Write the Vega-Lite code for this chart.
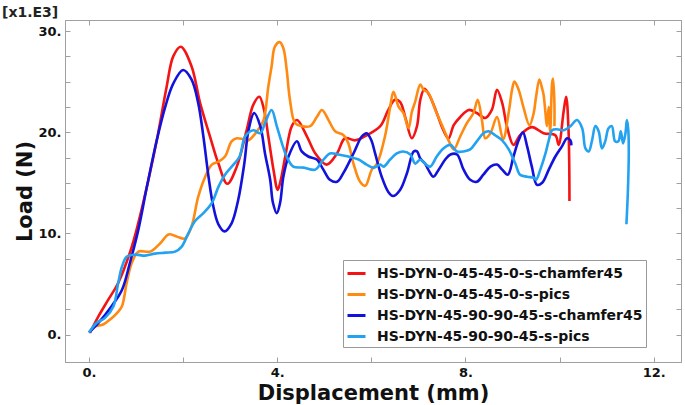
{
"$schema": "https://vega.github.io/schema/vega-lite/v6.json",
"width": 616, "height": 342,
"autosize": "none",
"padding": {"left": 65, "top": 20, "right": 4, "bottom": 43},
"background": "white",
"title": {"text": "[x1.E3]", "anchor": "start", "frame": "group", "dx": -63, "offset": 0, "fontSize": 14, "font": "DejaVu Sans", "fontWeight": "bold", "color": "#222"},
"config": {"view": {"stroke": "#a0a0a0", "strokeWidth": 1}, "font": "DejaVu Sans", "axis": {"grid": false}},
"data": {"values": [
{"s":"HS-DYN-0-45-45-0-s-chamfer45","i":0,"x":0.02,"y":0.17},
{"s":"HS-DYN-0-45-45-0-s-chamfer45","i":1,"x":0.2,"y":1.8},
{"s":"HS-DYN-0-45-45-0-s-chamfer45","i":2,"x":0.41,"y":3.45},
{"s":"HS-DYN-0-45-45-0-s-chamfer45","i":3,"x":0.62,"y":5.1},
{"s":"HS-DYN-0-45-45-0-s-chamfer45","i":4,"x":0.91,"y":8.7},
{"s":"HS-DYN-0-45-45-0-s-chamfer45","i":5,"x":1.15,"y":13},
{"s":"HS-DYN-0-45-45-0-s-chamfer45","i":6,"x":1.44,"y":19.2},
{"s":"HS-DYN-0-45-45-0-s-chamfer45","i":7,"x":1.65,"y":24.5},
{"s":"HS-DYN-0-45-45-0-s-chamfer45","i":8,"x":1.79,"y":27.5},
{"s":"HS-DYN-0-45-45-0-s-chamfer45","i":9,"x":1.95,"y":28.45},
{"s":"HS-DYN-0-45-45-0-s-chamfer45","i":10,"x":2.18,"y":26.5},
{"s":"HS-DYN-0-45-45-0-s-chamfer45","i":11,"x":2.36,"y":22.9},
{"s":"HS-DYN-0-45-45-0-s-chamfer45","i":12,"x":2.57,"y":19.6},
{"s":"HS-DYN-0-45-45-0-s-chamfer45","i":13,"x":2.75,"y":16.9},
{"s":"HS-DYN-0-45-45-0-s-chamfer45","i":14,"x":2.94,"y":14.9},
{"s":"HS-DYN-0-45-45-0-s-chamfer45","i":15,"x":3.14,"y":16.6},
{"s":"HS-DYN-0-45-45-0-s-chamfer45","i":16,"x":3.35,"y":20.2},
{"s":"HS-DYN-0-45-45-0-s-chamfer45","i":17,"x":3.49,"y":22.7},
{"s":"HS-DYN-0-45-45-0-s-chamfer45","i":18,"x":3.62,"y":23.5},
{"s":"HS-DYN-0-45-45-0-s-chamfer45","i":19,"x":3.72,"y":22.2},
{"s":"HS-DYN-0-45-45-0-s-chamfer45","i":20,"x":3.81,"y":19.6},
{"s":"HS-DYN-0-45-45-0-s-chamfer45","i":21,"x":3.92,"y":16.3},
{"s":"HS-DYN-0-45-45-0-s-chamfer45","i":22,"x":4.01,"y":14.3},
{"s":"HS-DYN-0-45-45-0-s-chamfer45","i":23,"x":4.09,"y":15.6},
{"s":"HS-DYN-0-45-45-0-s-chamfer45","i":24,"x":4.17,"y":17.6},
{"s":"HS-DYN-0-45-45-0-s-chamfer45","i":25,"x":4.31,"y":20.6},
{"s":"HS-DYN-0-45-45-0-s-chamfer45","i":26,"x":4.42,"y":21.2},
{"s":"HS-DYN-0-45-45-0-s-chamfer45","i":27,"x":4.63,"y":19.6},
{"s":"HS-DYN-0-45-45-0-s-chamfer45","i":28,"x":4.81,"y":17.9},
{"s":"HS-DYN-0-45-45-0-s-chamfer45","i":29,"x":5.05,"y":16.8},
{"s":"HS-DYN-0-45-45-0-s-chamfer45","i":30,"x":5.27,"y":17.9},
{"s":"HS-DYN-0-45-45-0-s-chamfer45","i":31,"x":5.44,"y":19.4},
{"s":"HS-DYN-0-45-45-0-s-chamfer45","i":32,"x":5.66,"y":19.2},
{"s":"HS-DYN-0-45-45-0-s-chamfer45","i":33,"x":5.9,"y":19.7},
{"s":"HS-DYN-0-45-45-0-s-chamfer45","i":34,"x":6.19,"y":20.6},
{"s":"HS-DYN-0-45-45-0-s-chamfer45","i":35,"x":6.36,"y":22.2},
{"s":"HS-DYN-0-45-45-0-s-chamfer45","i":36,"x":6.5,"y":23.2},
{"s":"HS-DYN-0-45-45-0-s-chamfer45","i":37,"x":6.61,"y":23.0},
{"s":"HS-DYN-0-45-45-0-s-chamfer45","i":38,"x":6.72,"y":21.5},
{"s":"HS-DYN-0-45-45-0-s-chamfer45","i":39,"x":6.86,"y":19.4},
{"s":"HS-DYN-0-45-45-0-s-chamfer45","i":40,"x":6.97,"y":20.6},
{"s":"HS-DYN-0-45-45-0-s-chamfer45","i":41,"x":7.04,"y":23.2},
{"s":"HS-DYN-0-45-45-0-s-chamfer45","i":42,"x":7.13,"y":24.3},
{"s":"HS-DYN-0-45-45-0-s-chamfer45","i":43,"x":7.25,"y":23.5},
{"s":"HS-DYN-0-45-45-0-s-chamfer45","i":44,"x":7.39,"y":21.9},
{"s":"HS-DYN-0-45-45-0-s-chamfer45","i":45,"x":7.53,"y":20.2},
{"s":"HS-DYN-0-45-45-0-s-chamfer45","i":46,"x":7.64,"y":19.4},
{"s":"HS-DYN-0-45-45-0-s-chamfer45","i":47,"x":7.75,"y":20.7},
{"s":"HS-DYN-0-45-45-0-s-chamfer45","i":48,"x":7.89,"y":21.5},
{"s":"HS-DYN-0-45-45-0-s-chamfer45","i":49,"x":8.07,"y":22.2},
{"s":"HS-DYN-0-45-45-0-s-chamfer45","i":50,"x":8.24,"y":21.9},
{"s":"HS-DYN-0-45-45-0-s-chamfer45","i":51,"x":8.42,"y":21.4},
{"s":"HS-DYN-0-45-45-0-s-chamfer45","i":52,"x":8.56,"y":22.2},
{"s":"HS-DYN-0-45-45-0-s-chamfer45","i":53,"x":8.67,"y":24.2},
{"s":"HS-DYN-0-45-45-0-s-chamfer45","i":54,"x":8.78,"y":22.9},
{"s":"HS-DYN-0-45-45-0-s-chamfer45","i":55,"x":8.88,"y":20.6},
{"s":"HS-DYN-0-45-45-0-s-chamfer45","i":56,"x":9.02,"y":18.75},
{"s":"HS-DYN-0-45-45-0-s-chamfer45","i":57,"x":9.16,"y":19.7},
{"s":"HS-DYN-0-45-45-0-s-chamfer45","i":58,"x":9.41,"y":20.5},
{"s":"HS-DYN-0-45-45-0-s-chamfer45","i":59,"x":9.66,"y":19.9},
{"s":"HS-DYN-0-45-45-0-s-chamfer45","i":60,"x":9.91,"y":19.7},
{"s":"HS-DYN-0-45-45-0-s-chamfer45","i":61,"x":9.98,"y":18.75},
{"s":"HS-DYN-0-45-45-0-s-chamfer45","i":62,"x":10.09,"y":22.2},
{"s":"HS-DYN-0-45-45-0-s-chamfer45","i":63,"x":10.14,"y":23.5},
{"s":"HS-DYN-0-45-45-0-s-chamfer45","i":64,"x":10.19,"y":20.2},
{"s":"HS-DYN-0-45-45-0-s-chamfer45","i":65,"x":10.21,"y":13.2},
{"s":"HS-DYN-0-45-45-0-s-pics","i":0,"x":0.02,"y":0.3},
{"s":"HS-DYN-0-45-45-0-s-pics","i":1,"x":0.13,"y":0.8},
{"s":"HS-DYN-0-45-45-0-s-pics","i":2,"x":0.3,"y":1.0},
{"s":"HS-DYN-0-45-45-0-s-pics","i":3,"x":0.45,"y":1.5},
{"s":"HS-DYN-0-45-45-0-s-pics","i":4,"x":0.59,"y":2.1},
{"s":"HS-DYN-0-45-45-0-s-pics","i":5,"x":0.7,"y":2.8},
{"s":"HS-DYN-0-45-45-0-s-pics","i":6,"x":0.8,"y":5.1},
{"s":"HS-DYN-0-45-45-0-s-pics","i":7,"x":0.91,"y":7.1},
{"s":"HS-DYN-0-45-45-0-s-pics","i":8,"x":1.05,"y":8.2},
{"s":"HS-DYN-0-45-45-0-s-pics","i":9,"x":1.3,"y":8.2},
{"s":"HS-DYN-0-45-45-0-s-pics","i":10,"x":1.51,"y":9.0},
{"s":"HS-DYN-0-45-45-0-s-pics","i":11,"x":1.69,"y":9.9},
{"s":"HS-DYN-0-45-45-0-s-pics","i":12,"x":1.86,"y":9.7},
{"s":"HS-DYN-0-45-45-0-s-pics","i":13,"x":2.04,"y":9.5},
{"s":"HS-DYN-0-45-45-0-s-pics","i":14,"x":2.18,"y":10.7},
{"s":"HS-DYN-0-45-45-0-s-pics","i":15,"x":2.32,"y":13.6},
{"s":"HS-DYN-0-45-45-0-s-pics","i":16,"x":2.47,"y":15.6},
{"s":"HS-DYN-0-45-45-0-s-pics","i":17,"x":2.61,"y":16.8},
{"s":"HS-DYN-0-45-45-0-s-pics","i":18,"x":2.75,"y":17.1},
{"s":"HS-DYN-0-45-45-0-s-pics","i":19,"x":2.89,"y":17.6},
{"s":"HS-DYN-0-45-45-0-s-pics","i":20,"x":3.03,"y":19.1},
{"s":"HS-DYN-0-45-45-0-s-pics","i":21,"x":3.14,"y":19.4},
{"s":"HS-DYN-0-45-45-0-s-pics","i":22,"x":3.28,"y":19.3},
{"s":"HS-DYN-0-45-45-0-s-pics","i":23,"x":3.39,"y":19.2},
{"s":"HS-DYN-0-45-45-0-s-pics","i":24,"x":3.57,"y":20.1},
{"s":"HS-DYN-0-45-45-0-s-pics","i":25,"x":3.71,"y":21.2},
{"s":"HS-DYN-0-45-45-0-s-pics","i":26,"x":3.81,"y":24.5},
{"s":"HS-DYN-0-45-45-0-s-pics","i":27,"x":3.88,"y":26.5},
{"s":"HS-DYN-0-45-45-0-s-pics","i":28,"x":3.95,"y":28.45},
{"s":"HS-DYN-0-45-45-0-s-pics","i":29,"x":4.05,"y":28.9},
{"s":"HS-DYN-0-45-45-0-s-pics","i":30,"x":4.13,"y":28.3},
{"s":"HS-DYN-0-45-45-0-s-pics","i":31,"x":4.2,"y":26.2},
{"s":"HS-DYN-0-45-45-0-s-pics","i":32,"x":4.27,"y":23.2},
{"s":"HS-DYN-0-45-45-0-s-pics","i":33,"x":4.38,"y":20.9},
{"s":"HS-DYN-0-45-45-0-s-pics","i":34,"x":4.52,"y":20.6},
{"s":"HS-DYN-0-45-45-0-s-pics","i":35,"x":4.7,"y":20.6},
{"s":"HS-DYN-0-45-45-0-s-pics","i":36,"x":4.84,"y":21.5},
{"s":"HS-DYN-0-45-45-0-s-pics","i":37,"x":4.95,"y":22.2},
{"s":"HS-DYN-0-45-45-0-s-pics","i":38,"x":5.09,"y":21.2},
{"s":"HS-DYN-0-45-45-0-s-pics","i":39,"x":5.23,"y":20.1},
{"s":"HS-DYN-0-45-45-0-s-pics","i":40,"x":5.41,"y":19.7},
{"s":"HS-DYN-0-45-45-0-s-pics","i":41,"x":5.51,"y":18.9},
{"s":"HS-DYN-0-45-45-0-s-pics","i":42,"x":5.62,"y":16.9},
{"s":"HS-DYN-0-45-45-0-s-pics","i":43,"x":5.76,"y":15.1},
{"s":"HS-DYN-0-45-45-0-s-pics","i":44,"x":5.87,"y":14.7},
{"s":"HS-DYN-0-45-45-0-s-pics","i":45,"x":6.01,"y":16.3},
{"s":"HS-DYN-0-45-45-0-s-pics","i":46,"x":6.12,"y":16.9},
{"s":"HS-DYN-0-45-45-0-s-pics","i":47,"x":6.29,"y":19.6},
{"s":"HS-DYN-0-45-45-0-s-pics","i":48,"x":6.4,"y":22.5},
{"s":"HS-DYN-0-45-45-0-s-pics","i":49,"x":6.47,"y":24.0},
{"s":"HS-DYN-0-45-45-0-s-pics","i":50,"x":6.58,"y":22.5},
{"s":"HS-DYN-0-45-45-0-s-pics","i":51,"x":6.68,"y":21.9},
{"s":"HS-DYN-0-45-45-0-s-pics","i":52,"x":6.79,"y":20.4},
{"s":"HS-DYN-0-45-45-0-s-pics","i":53,"x":6.86,"y":22.0},
{"s":"HS-DYN-0-45-45-0-s-pics","i":54,"x":6.93,"y":23.0},
{"s":"HS-DYN-0-45-45-0-s-pics","i":55,"x":7.04,"y":24.7},
{"s":"HS-DYN-0-45-45-0-s-pics","i":56,"x":7.11,"y":24.2},
{"s":"HS-DYN-0-45-45-0-s-pics","i":57,"x":7.21,"y":23.9},
{"s":"HS-DYN-0-45-45-0-s-pics","i":58,"x":7.36,"y":22.2},
{"s":"HS-DYN-0-45-45-0-s-pics","i":59,"x":7.5,"y":20.7},
{"s":"HS-DYN-0-45-45-0-s-pics","i":60,"x":7.64,"y":19.2},
{"s":"HS-DYN-0-45-45-0-s-pics","i":61,"x":7.75,"y":18.3},
{"s":"HS-DYN-0-45-45-0-s-pics","i":62,"x":7.89,"y":19.6},
{"s":"HS-DYN-0-45-45-0-s-pics","i":63,"x":8.03,"y":20.9},
{"s":"HS-DYN-0-45-45-0-s-pics","i":64,"x":8.17,"y":21.9},
{"s":"HS-DYN-0-45-45-0-s-pics","i":65,"x":8.26,"y":23.2},
{"s":"HS-DYN-0-45-45-0-s-pics","i":66,"x":8.35,"y":21.2},
{"s":"HS-DYN-0-45-45-0-s-pics","i":67,"x":8.42,"y":19.4},
{"s":"HS-DYN-0-45-45-0-s-pics","i":68,"x":8.53,"y":19.9},
{"s":"HS-DYN-0-45-45-0-s-pics","i":69,"x":8.67,"y":21.5},
{"s":"HS-DYN-0-45-45-0-s-pics","i":70,"x":8.8,"y":19.3},
{"s":"HS-DYN-0-45-45-0-s-pics","i":71,"x":8.92,"y":22.0},
{"s":"HS-DYN-0-45-45-0-s-pics","i":72,"x":8.99,"y":24.2},
{"s":"HS-DYN-0-45-45-0-s-pics","i":73,"x":9.04,"y":25.0},
{"s":"HS-DYN-0-45-45-0-s-pics","i":74,"x":9.13,"y":24.2},
{"s":"HS-DYN-0-45-45-0-s-pics","i":75,"x":9.23,"y":22.5},
{"s":"HS-DYN-0-45-45-0-s-pics","i":76,"x":9.36,"y":20.7},
{"s":"HS-DYN-0-45-45-0-s-pics","i":77,"x":9.45,"y":21.9},
{"s":"HS-DYN-0-45-45-0-s-pics","i":78,"x":9.5,"y":23.5},
{"s":"HS-DYN-0-45-45-0-s-pics","i":79,"x":9.57,"y":25.2},
{"s":"HS-DYN-0-45-45-0-s-pics","i":80,"x":9.63,"y":24.3},
{"s":"HS-DYN-0-45-45-0-s-pics","i":81,"x":9.66,"y":23.7},
{"s":"HS-DYN-0-45-45-0-s-pics","i":82,"x":9.7,"y":21.9},
{"s":"HS-DYN-0-45-45-0-s-pics","i":83,"x":9.73,"y":20.6},
{"s":"HS-DYN-0-45-45-0-s-pics","i":84,"x":9.77,"y":22.5},
{"s":"HS-DYN-0-45-45-0-s-pics","i":85,"x":9.8,"y":20.1},
{"s":"HS-DYN-0-45-45-0-s-pics","i":86,"x":9.84,"y":24.8},
{"s":"HS-DYN-0-45-45-0-s-pics","i":87,"x":9.86,"y":25.3},
{"s":"HS-DYN-0-45-45-0-s-pics","i":88,"x":9.89,"y":22.9},
{"s":"HS-DYN-0-45-45-0-s-pics","i":89,"x":9.89,"y":20.6},
{"s":"HS-DYN-45-90-90-45-s-chamfer45","i":0,"x":0,"y":0.2},
{"s":"HS-DYN-45-90-90-45-s-chamfer45","i":1,"x":0.2,"y":1.15},
{"s":"HS-DYN-45-90-90-45-s-chamfer45","i":2,"x":0.48,"y":2.8},
{"s":"HS-DYN-45-90-90-45-s-chamfer45","i":3,"x":0.7,"y":4.4},
{"s":"HS-DYN-45-90-90-45-s-chamfer45","i":4,"x":0.87,"y":7.1},
{"s":"HS-DYN-45-90-90-45-s-chamfer45","i":5,"x":1.05,"y":10.4},
{"s":"HS-DYN-45-90-90-45-s-chamfer45","i":6,"x":1.23,"y":14.6},
{"s":"HS-DYN-45-90-90-45-s-chamfer45","i":7,"x":1.44,"y":19.2},
{"s":"HS-DYN-45-90-90-45-s-chamfer45","i":8,"x":1.62,"y":22.5},
{"s":"HS-DYN-45-90-90-45-s-chamfer45","i":9,"x":1.79,"y":24.8},
{"s":"HS-DYN-45-90-90-45-s-chamfer45","i":10,"x":2.0,"y":26.15},
{"s":"HS-DYN-45-90-90-45-s-chamfer45","i":11,"x":2.18,"y":25.2},
{"s":"HS-DYN-45-90-90-45-s-chamfer45","i":12,"x":2.32,"y":22.9},
{"s":"HS-DYN-45-90-90-45-s-chamfer45","i":13,"x":2.43,"y":19.6},
{"s":"HS-DYN-45-90-90-45-s-chamfer45","i":14,"x":2.54,"y":15.6},
{"s":"HS-DYN-45-90-90-45-s-chamfer45","i":15,"x":2.64,"y":12.7},
{"s":"HS-DYN-45-90-90-45-s-chamfer45","i":16,"x":2.75,"y":10.9},
{"s":"HS-DYN-45-90-90-45-s-chamfer45","i":17,"x":2.88,"y":10.2},
{"s":"HS-DYN-45-90-90-45-s-chamfer45","i":18,"x":3.03,"y":11.0},
{"s":"HS-DYN-45-90-90-45-s-chamfer45","i":19,"x":3.17,"y":13.3},
{"s":"HS-DYN-45-90-90-45-s-chamfer45","i":20,"x":3.3,"y":16.9},
{"s":"HS-DYN-45-90-90-45-s-chamfer45","i":21,"x":3.39,"y":20.2},
{"s":"HS-DYN-45-90-90-45-s-chamfer45","i":22,"x":3.51,"y":21.9},
{"s":"HS-DYN-45-90-90-45-s-chamfer45","i":23,"x":3.64,"y":20.6},
{"s":"HS-DYN-45-90-90-45-s-chamfer45","i":24,"x":3.74,"y":17.9},
{"s":"HS-DYN-45-90-90-45-s-chamfer45","i":25,"x":3.85,"y":15.3},
{"s":"HS-DYN-45-90-90-45-s-chamfer45","i":26,"x":3.91,"y":13.0},
{"s":"HS-DYN-45-90-90-45-s-chamfer45","i":27,"x":3.99,"y":12.0},
{"s":"HS-DYN-45-90-90-45-s-chamfer45","i":28,"x":4.06,"y":13.0},
{"s":"HS-DYN-45-90-90-45-s-chamfer45","i":29,"x":4.13,"y":15.6},
{"s":"HS-DYN-45-90-90-45-s-chamfer45","i":30,"x":4.24,"y":17.6},
{"s":"HS-DYN-45-90-90-45-s-chamfer45","i":31,"x":4.42,"y":19.1},
{"s":"HS-DYN-45-90-90-45-s-chamfer45","i":32,"x":4.52,"y":18.1},
{"s":"HS-DYN-45-90-90-45-s-chamfer45","i":33,"x":4.66,"y":17.6},
{"s":"HS-DYN-45-90-90-45-s-chamfer45","i":34,"x":4.84,"y":17.3},
{"s":"HS-DYN-45-90-90-45-s-chamfer45","i":35,"x":4.98,"y":16.3},
{"s":"HS-DYN-45-90-90-45-s-chamfer45","i":36,"x":5.12,"y":15.3},
{"s":"HS-DYN-45-90-90-45-s-chamfer45","i":37,"x":5.27,"y":15.1},
{"s":"HS-DYN-45-90-90-45-s-chamfer45","i":38,"x":5.41,"y":16.0},
{"s":"HS-DYN-45-90-90-45-s-chamfer45","i":39,"x":5.62,"y":17.9},
{"s":"HS-DYN-45-90-90-45-s-chamfer45","i":40,"x":5.8,"y":19.6},
{"s":"HS-DYN-45-90-90-45-s-chamfer45","i":41,"x":5.9,"y":19.9},
{"s":"HS-DYN-45-90-90-45-s-chamfer45","i":42,"x":6.0,"y":19.2},
{"s":"HS-DYN-45-90-90-45-s-chamfer45","i":43,"x":6.08,"y":17.9},
{"s":"HS-DYN-45-90-90-45-s-chamfer45","i":44,"x":6.22,"y":15.6},
{"s":"HS-DYN-45-90-90-45-s-chamfer45","i":45,"x":6.36,"y":14.1},
{"s":"HS-DYN-45-90-90-45-s-chamfer45","i":46,"x":6.46,"y":13.7},
{"s":"HS-DYN-45-90-90-45-s-chamfer45","i":47,"x":6.61,"y":14.3},
{"s":"HS-DYN-45-90-90-45-s-chamfer45","i":48,"x":6.76,"y":16.0},
{"s":"HS-DYN-45-90-90-45-s-chamfer45","i":49,"x":6.9,"y":18.1},
{"s":"HS-DYN-45-90-90-45-s-chamfer45","i":50,"x":6.97,"y":18.1},
{"s":"HS-DYN-45-90-90-45-s-chamfer45","i":51,"x":7.04,"y":17.4},
{"s":"HS-DYN-45-90-90-45-s-chamfer45","i":52,"x":7.14,"y":16.9},
{"s":"HS-DYN-45-90-90-45-s-chamfer45","i":53,"x":7.21,"y":16.3},
{"s":"HS-DYN-45-90-90-45-s-chamfer45","i":54,"x":7.32,"y":15.6},
{"s":"HS-DYN-45-90-90-45-s-chamfer45","i":55,"x":7.43,"y":16.3},
{"s":"HS-DYN-45-90-90-45-s-chamfer45","i":56,"x":7.57,"y":17.3},
{"s":"HS-DYN-45-90-90-45-s-chamfer45","i":57,"x":7.68,"y":17.8},
{"s":"HS-DYN-45-90-90-45-s-chamfer45","i":58,"x":7.82,"y":17.8},
{"s":"HS-DYN-45-90-90-45-s-chamfer45","i":59,"x":7.96,"y":16.3},
{"s":"HS-DYN-45-90-90-45-s-chamfer45","i":60,"x":8.1,"y":15.3},
{"s":"HS-DYN-45-90-90-45-s-chamfer45","i":61,"x":8.24,"y":15.1},
{"s":"HS-DYN-45-90-90-45-s-chamfer45","i":62,"x":8.38,"y":15.8},
{"s":"HS-DYN-45-90-90-45-s-chamfer45","i":63,"x":8.53,"y":16.6},
{"s":"HS-DYN-45-90-90-45-s-chamfer45","i":64,"x":8.67,"y":16.8},
{"s":"HS-DYN-45-90-90-45-s-chamfer45","i":65,"x":8.78,"y":16.3},
{"s":"HS-DYN-45-90-90-45-s-chamfer45","i":66,"x":8.9,"y":15.8},
{"s":"HS-DYN-45-90-90-45-s-chamfer45","i":67,"x":9.02,"y":17.6},
{"s":"HS-DYN-45-90-90-45-s-chamfer45","i":68,"x":9.13,"y":19.2},
{"s":"HS-DYN-45-90-90-45-s-chamfer45","i":69,"x":9.22,"y":20.0},
{"s":"HS-DYN-45-90-90-45-s-chamfer45","i":70,"x":9.31,"y":18.6},
{"s":"HS-DYN-45-90-90-45-s-chamfer45","i":71,"x":9.41,"y":16.6},
{"s":"HS-DYN-45-90-90-45-s-chamfer45","i":72,"x":9.52,"y":14.8},
{"s":"HS-DYN-45-90-90-45-s-chamfer45","i":73,"x":9.63,"y":15.0},
{"s":"HS-DYN-45-90-90-45-s-chamfer45","i":74,"x":9.77,"y":16.3},
{"s":"HS-DYN-45-90-90-45-s-chamfer45","i":75,"x":9.91,"y":17.6},
{"s":"HS-DYN-45-90-90-45-s-chamfer45","i":76,"x":10.05,"y":18.6},
{"s":"HS-DYN-45-90-90-45-s-chamfer45","i":77,"x":10.16,"y":19.4},
{"s":"HS-DYN-45-90-90-45-s-chamfer45","i":78,"x":10.23,"y":19.2},
{"s":"HS-DYN-45-90-90-45-s-chamfer45","i":79,"x":10.25,"y":18.7},
{"s":"HS-DYN-45-90-90-45-s-pics","i":0,"x":0,"y":0.2},
{"s":"HS-DYN-45-90-90-45-s-pics","i":1,"x":0.16,"y":1.15},
{"s":"HS-DYN-45-90-90-45-s-pics","i":2,"x":0.34,"y":1.65},
{"s":"HS-DYN-45-90-90-45-s-pics","i":3,"x":0.52,"y":2.8},
{"s":"HS-DYN-45-90-90-45-s-pics","i":4,"x":0.62,"y":5.1},
{"s":"HS-DYN-45-90-90-45-s-pics","i":5,"x":0.7,"y":6.7},
{"s":"HS-DYN-45-90-90-45-s-pics","i":6,"x":0.8,"y":7.7},
{"s":"HS-DYN-45-90-90-45-s-pics","i":7,"x":0.98,"y":7.9},
{"s":"HS-DYN-45-90-90-45-s-pics","i":8,"x":1.19,"y":7.8},
{"s":"HS-DYN-45-90-90-45-s-pics","i":9,"x":1.4,"y":8.0},
{"s":"HS-DYN-45-90-90-45-s-pics","i":10,"x":1.62,"y":8.1},
{"s":"HS-DYN-45-90-90-45-s-pics","i":11,"x":1.83,"y":8.2},
{"s":"HS-DYN-45-90-90-45-s-pics","i":12,"x":1.97,"y":8.7},
{"s":"HS-DYN-45-90-90-45-s-pics","i":13,"x":2.11,"y":10.0},
{"s":"HS-DYN-45-90-90-45-s-pics","i":14,"x":2.25,"y":11.2},
{"s":"HS-DYN-45-90-90-45-s-pics","i":15,"x":2.43,"y":12.0},
{"s":"HS-DYN-45-90-90-45-s-pics","i":16,"x":2.61,"y":13.0},
{"s":"HS-DYN-45-90-90-45-s-pics","i":17,"x":2.75,"y":14.6},
{"s":"HS-DYN-45-90-90-45-s-pics","i":18,"x":2.89,"y":15.8},
{"s":"HS-DYN-45-90-90-45-s-pics","i":19,"x":3.07,"y":16.8},
{"s":"HS-DYN-45-90-90-45-s-pics","i":20,"x":3.2,"y":17.6},
{"s":"HS-DYN-45-90-90-45-s-pics","i":21,"x":3.32,"y":19.6},
{"s":"HS-DYN-45-90-90-45-s-pics","i":22,"x":3.49,"y":20.2},
{"s":"HS-DYN-45-90-90-45-s-pics","i":23,"x":3.64,"y":19.9},
{"s":"HS-DYN-45-90-90-45-s-pics","i":24,"x":3.74,"y":20.9},
{"s":"HS-DYN-45-90-90-45-s-pics","i":25,"x":3.88,"y":22.2},
{"s":"HS-DYN-45-90-90-45-s-pics","i":26,"x":3.99,"y":20.6},
{"s":"HS-DYN-45-90-90-45-s-pics","i":27,"x":4.1,"y":18.9},
{"s":"HS-DYN-45-90-90-45-s-pics","i":28,"x":4.2,"y":17.6},
{"s":"HS-DYN-45-90-90-45-s-pics","i":29,"x":4.34,"y":16.6},
{"s":"HS-DYN-45-90-90-45-s-pics","i":30,"x":4.56,"y":16.5},
{"s":"HS-DYN-45-90-90-45-s-pics","i":31,"x":4.81,"y":16.3},
{"s":"HS-DYN-45-90-90-45-s-pics","i":32,"x":4.95,"y":17.1},
{"s":"HS-DYN-45-90-90-45-s-pics","i":33,"x":5.12,"y":17.9},
{"s":"HS-DYN-45-90-90-45-s-pics","i":34,"x":5.3,"y":17.8},
{"s":"HS-DYN-45-90-90-45-s-pics","i":35,"x":5.51,"y":17.6},
{"s":"HS-DYN-45-90-90-45-s-pics","i":36,"x":5.73,"y":17.3},
{"s":"HS-DYN-45-90-90-45-s-pics","i":37,"x":5.9,"y":16.8},
{"s":"HS-DYN-45-90-90-45-s-pics","i":38,"x":6.05,"y":16.5},
{"s":"HS-DYN-45-90-90-45-s-pics","i":39,"x":6.19,"y":16.8},
{"s":"HS-DYN-45-90-90-45-s-pics","i":40,"x":6.26,"y":16.6},
{"s":"HS-DYN-45-90-90-45-s-pics","i":41,"x":6.4,"y":17.3},
{"s":"HS-DYN-45-90-90-45-s-pics","i":42,"x":6.54,"y":17.9},
{"s":"HS-DYN-45-90-90-45-s-pics","i":43,"x":6.68,"y":18.1},
{"s":"HS-DYN-45-90-90-45-s-pics","i":44,"x":6.83,"y":17.8},
{"s":"HS-DYN-45-90-90-45-s-pics","i":45,"x":6.93,"y":16.9},
{"s":"HS-DYN-45-90-90-45-s-pics","i":46,"x":7.04,"y":17.3},
{"s":"HS-DYN-45-90-90-45-s-pics","i":47,"x":7.14,"y":16.9},
{"s":"HS-DYN-45-90-90-45-s-pics","i":48,"x":7.25,"y":16.6},
{"s":"HS-DYN-45-90-90-45-s-pics","i":49,"x":7.39,"y":17.6},
{"s":"HS-DYN-45-90-90-45-s-pics","i":50,"x":7.53,"y":18.4},
{"s":"HS-DYN-45-90-90-45-s-pics","i":51,"x":7.68,"y":18.75},
{"s":"HS-DYN-45-90-90-45-s-pics","i":52,"x":7.82,"y":18.1},
{"s":"HS-DYN-45-90-90-45-s-pics","i":53,"x":7.96,"y":18.1},
{"s":"HS-DYN-45-90-90-45-s-pics","i":54,"x":8.1,"y":18.3},
{"s":"HS-DYN-45-90-90-45-s-pics","i":55,"x":8.24,"y":19.1},
{"s":"HS-DYN-45-90-90-45-s-pics","i":56,"x":8.38,"y":19.9},
{"s":"HS-DYN-45-90-90-45-s-pics","i":57,"x":8.49,"y":20.1},
{"s":"HS-DYN-45-90-90-45-s-pics","i":58,"x":8.63,"y":19.7},
{"s":"HS-DYN-45-90-90-45-s-pics","i":59,"x":8.78,"y":19.2},
{"s":"HS-DYN-45-90-90-45-s-pics","i":60,"x":8.92,"y":18.3},
{"s":"HS-DYN-45-90-90-45-s-pics","i":61,"x":9.06,"y":16.9},
{"s":"HS-DYN-45-90-90-45-s-pics","i":62,"x":9.16,"y":15.8},
{"s":"HS-DYN-45-90-90-45-s-pics","i":63,"x":9.31,"y":15.6},
{"s":"HS-DYN-45-90-90-45-s-pics","i":64,"x":9.45,"y":15.5},
{"s":"HS-DYN-45-90-90-45-s-pics","i":65,"x":9.5,"y":15.3},
{"s":"HS-DYN-45-90-90-45-s-pics","i":66,"x":9.59,"y":16.3},
{"s":"HS-DYN-45-90-90-45-s-pics","i":67,"x":9.7,"y":17.9},
{"s":"HS-DYN-45-90-90-45-s-pics","i":68,"x":9.77,"y":19.2},
{"s":"HS-DYN-45-90-90-45-s-pics","i":69,"x":9.84,"y":20.2},
{"s":"HS-DYN-45-90-90-45-s-pics","i":70,"x":9.94,"y":20.3},
{"s":"HS-DYN-45-90-90-45-s-pics","i":71,"x":10.09,"y":20.2},
{"s":"HS-DYN-45-90-90-45-s-pics","i":72,"x":10.23,"y":20.6},
{"s":"HS-DYN-45-90-90-45-s-pics","i":73,"x":10.37,"y":21.2},
{"s":"HS-DYN-45-90-90-45-s-pics","i":74,"x":10.48,"y":20.4},
{"s":"HS-DYN-45-90-90-45-s-pics","i":75,"x":10.55,"y":18.4},
{"s":"HS-DYN-45-90-90-45-s-pics","i":76,"x":10.62,"y":18.1},
{"s":"HS-DYN-45-90-90-45-s-pics","i":77,"x":10.69,"y":19.2},
{"s":"HS-DYN-45-90-90-45-s-pics","i":78,"x":10.76,"y":20.6},
{"s":"HS-DYN-45-90-90-45-s-pics","i":79,"x":10.83,"y":20.1},
{"s":"HS-DYN-45-90-90-45-s-pics","i":80,"x":10.9,"y":18.4},
{"s":"HS-DYN-45-90-90-45-s-pics","i":81,"x":10.97,"y":19.1},
{"s":"HS-DYN-45-90-90-45-s-pics","i":82,"x":11.04,"y":20.4},
{"s":"HS-DYN-45-90-90-45-s-pics","i":83,"x":11.11,"y":20.6},
{"s":"HS-DYN-45-90-90-45-s-pics","i":84,"x":11.18,"y":19.1},
{"s":"HS-DYN-45-90-90-45-s-pics","i":85,"x":11.25,"y":19.1},
{"s":"HS-DYN-45-90-90-45-s-pics","i":86,"x":11.3,"y":20.1},
{"s":"HS-DYN-45-90-90-45-s-pics","i":87,"x":11.35,"y":18.9},
{"s":"HS-DYN-45-90-90-45-s-pics","i":88,"x":11.4,"y":19.9},
{"s":"HS-DYN-45-90-90-45-s-pics","i":89,"x":11.43,"y":21.2},
{"s":"HS-DYN-45-90-90-45-s-pics","i":90,"x":11.46,"y":20.2},
{"s":"HS-DYN-45-90-90-45-s-pics","i":91,"x":11.47,"y":17.9},
{"s":"HS-DYN-45-90-90-45-s-pics","i":92,"x":11.45,"y":14.0},
{"s":"HS-DYN-45-90-90-45-s-pics","i":93,"x":11.42,"y":10.9}
]},
"layer": [
{"mark": {"type": "line", "strokeWidth": 2.6, "clip": true, "interpolate": "catmull-rom"},
 "encoding": {
  "x": {"field": "x", "type": "quantitative",
        "scale": {"domain": [-0.51, 12.58], "nice": false, "zero": false},
        "axis": {"values": [0,2,4,6,8,10,12], "labelExpr": "datum.value % 4 == 0 ? datum.value + '.' : ''",
                 "title": "Displacement (mm)", "titleFontSize": 21, "titleFontWeight": "bold", "titlePadding": 3, "titleColor": "#111",
                 "labelFontSize": 13, "labelFontWeight": "bold", "labelColor": "#111", "labelOverlap": false, "labelFlush": false,
                 "tickSize": -5, "labelPadding": 9, "domainColor": "#a0a0a0", "tickColor": "#a0a0a0"}},
  "y": {"field": "y", "type": "quantitative",
        "scale": {"domain": [-2.71, 31.09], "nice": false, "zero": false},
        "axis": {"values": [0,2.5,5,7.5,10,12.5,15,17.5,20,22.5,25,27.5,30], "labelExpr": "datum.value % 10 == 0 ? datum.value + '.' : ''",
                 "title": "Load (N)", "titleFontSize": 21, "titleFontWeight": "bold", "titlePadding": 2, "titleColor": "#111",
                 "labelFontSize": 13, "labelFontWeight": "bold", "labelColor": "#111", "labelOverlap": false, "labelFlush": false,
                 "tickSize": -5, "labelPadding": 9, "domainColor": "#a0a0a0", "tickColor": "#a0a0a0"}},
  "color": {"field": "s", "type": "nominal",
            "scale": {"domain": ["HS-DYN-0-45-45-0-s-chamfer45","HS-DYN-0-45-45-0-s-pics","HS-DYN-45-90-90-45-s-chamfer45","HS-DYN-45-90-90-45-s-pics"],
                      "range": ["#f41414","#ff8a12","#1212dc","#22a2f0"]},
            "legend": {"orient": "none", "legendX": 278, "legendY": 240, "title": null,
                       "symbolType": "stroke", "symbolSize": 324, "symbolStrokeWidth": 3,
                       "labelFontSize": 14, "labelFontWeight": "bold", "labelFont": "DejaVu Sans", "labelColor": "#111", "labelLimit": 400,
                       "strokeColor": "#999", "fillColor": "white", "padding": 3, "rowPadding": 3, "labelOffset": 10}},
  "order": {"field": "i", "type": "quantitative"}
 }},
{"mark": {"type": "line", "opacity": 0},
 "encoding": {
  "x": {"field": "x", "type": "quantitative",
        "axis": {"orient": "top", "values": [0,2,4,6,8,10,12], "labels": false, "title": null, "tickSize": -5, "domainColor": "#a0a0a0", "tickColor": "#a0a0a0"}},
  "y": {"field": "y", "type": "quantitative",
        "axis": {"orient": "right", "values": [0,2.5,5,7.5,10,12.5,15,17.5,20,22.5,25,27.5,30], "labels": false, "title": null, "tickSize": -5, "domainColor": "#a0a0a0", "tickColor": "#a0a0a0"}},
  "detail": {"field": "s"}
 }}
],
"resolve": {"axis": {"x": "independent", "y": "independent"}}
}
